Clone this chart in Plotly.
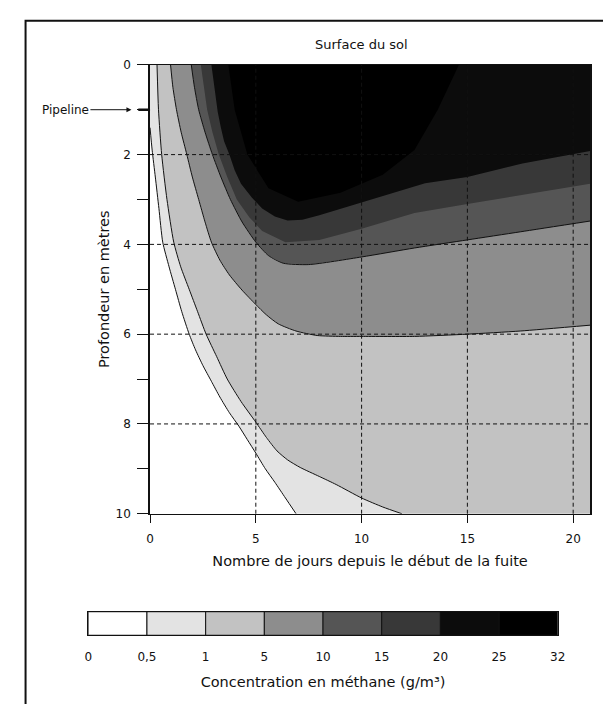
import plotly.graph_objects as go

# ---------------- data ----------------
X_MAX = 20.8          # last day shown on the horizontal axis
DEPTH_MAX = 10        # metres
PIPELINE_DEPTH = 1

X_TICKS = [0, 5, 10, 15, 20]
Y_TICKS = [0, 1, 2, 3, 4, 5, 6, 7, 8, 9, 10]
Y_TICK_TEXT = ["0", "", "2", "", "4", "", "6", "", "8", "", "10"]
GRID_X = [5, 10, 15, 20]
GRID_Y = [2, 4, 6, 8]

LEVEL_LABELS = ["0", "0,5", "1", "5", "10", "15", "20", "25", "32"]
BAND_COLORS = ["#ffffff", "#e3e3e3", "#c2c2c2", "#8d8d8d",
               "#555555", "#383838", "#0c0c0c", "#000000"]

# iso-concentration curves: (day, depth in m)
ISO_05_DAY = [0.0, 0.1, 0.25, 0.42, 0.6, 0.9, 1.2, 1.5, 1.85, 2.15, 2.5, 2.9,
              3.3, 3.75, 4.2, 4.6, 5.0, 5.45, 5.9, 6.4, 6.9]
ISO_05_DEPTH = [1.4, 1.9, 2.5, 3.2, 3.95, 4.5, 5.0, 5.5, 6.0, 6.35, 6.7, 7.05,
                7.4, 7.75, 8.05, 8.35, 8.65, 9.0, 9.3, 9.65, 10.0]

ISO_1_DAY = [0.33, 0.4, 0.55, 0.8, 1.12, 1.45, 1.85, 2.25, 2.65, 3.15, 3.65,
             4.3, 5.0, 5.5, 6.0, 6.5, 7.1, 8.0, 8.8, 10.0, 11.0, 11.9]
ISO_1_DEPTH = [0.0, 1.0, 2.0, 3.0, 3.95, 4.5, 5.0, 5.5, 6.0, 6.5, 7.0,
               7.5, 7.96, 8.3, 8.6, 8.8, 8.97, 9.17, 9.35, 9.65, 9.85, 10.0]

ISO_5_DAY = [0.97, 1.08, 1.25, 1.47, 1.74, 2.0, 2.3, 2.6, 2.9, 3.3, 3.75, 4.35,
             4.98, 5.5, 6.06, 6.9, 7.9, 9.0, 10.0, 12.5, 15.0, 17.5, 20.8]
ISO_5_DEPTH = [0.0, 0.5, 1.0, 1.5, 2.0, 2.5, 3.0, 3.5, 3.95, 4.35, 4.68, 5.02,
               5.33, 5.57, 5.77, 5.93, 6.03, 6.05, 6.05, 6.05, 6.0, 5.93, 5.8]

ISO_10_DAY = [1.95, 2.1, 2.3, 2.6, 2.95, 3.35, 3.8, 4.35, 5.0, 5.6, 6.3, 7.5,
              10.0, 12.5, 15.0, 17.5, 20.8]
ISO_10_DEPTH = [0.0, 0.5, 1.0, 1.5, 2.0, 2.5, 3.0, 3.5, 3.95, 4.25, 4.42, 4.45,
                4.28, 4.08, 3.9, 3.72, 3.48]

ISO_15_DAY = [2.4, 2.55, 2.7, 2.95, 3.25, 3.65, 4.1, 4.7, 5.3, 6.4, 8.0, 10.0,
              12.5, 15.0, 17.5, 20.8]
ISO_15_DEPTH = [0.0, 0.5, 1.0, 1.5, 2.0, 2.5, 3.0, 3.4, 3.7, 3.95, 3.9, 3.65,
                3.3, 3.1, 2.9, 2.65]

ISO_20_DAY = [2.9, 3.0, 3.1, 3.2, 3.35, 3.5, 3.75, 4.0, 4.3, 4.8, 5.3, 5.9, 6.5,
              7.2, 8.0, 9.9, 11.5, 13.0, 15.0, 17.6, 20.8]
ISO_20_DEPTH = [0.0, 0.35, 0.7, 1.05, 1.4, 1.7, 2.0, 2.35, 2.65, 2.95, 3.2, 3.38,
                3.47, 3.45, 3.35, 3.08, 2.85, 2.64, 2.5, 2.2, 1.92]

ISO_25_DAY = [3.7, 4.0, 4.6, 5.6, 7.0, 9.0, 11.0, 12.5, 13.6, 14.6]
ISO_25_DEPTH = [0.0, 1.0, 2.0, 2.75, 3.05, 2.85, 2.45, 1.9, 1.0, 0.0]

ISOLINES = [  # (band index, days, depths, drawn as a solid line)
    (1, ISO_05_DAY, ISO_05_DEPTH, True),
    (2, ISO_1_DAY, ISO_1_DEPTH, True),
    (3, ISO_5_DAY, ISO_5_DEPTH, True),
    (4, ISO_10_DAY, ISO_10_DEPTH, True),
    (5, ISO_15_DAY, ISO_15_DEPTH, False),
    (6, ISO_20_DAY, ISO_20_DEPTH, False),
    (7, ISO_25_DAY, ISO_25_DEPTH, False),
]

# ---------------- figure ----------------
W, H = 603, 704
FONT = "DejaVu Sans"

fig = go.Figure()


def region(days, depths):
    """Region of higher concentration: curve closed along the right/top edges."""
    xs, ys = list(days), list(depths)
    if ys[-1] == 0 and ys[0] == 0:
        return xs, ys
    if ys[0] != 0:
        xs.insert(0, xs[0])
        ys.insert(0, 0)
    if ys[-1] == DEPTH_MAX and xs[-1] < X_MAX:
        xs.append(X_MAX)
        ys.append(DEPTH_MAX)
    xs.append(X_MAX)
    ys.append(0)
    return xs, ys


for band, days, depths, _ in ISOLINES:
    px, py = region(days, depths)
    fig.add_trace(go.Scatter(
        x=px, y=py, fill="toself", fillcolor=BAND_COLORS[band],
        mode="lines", line=dict(width=0, color=BAND_COLORS[band]),
        hoverinfo="skip", showlegend=False, xaxis="x", yaxis="y"))

for band, days, depths, drawn in ISOLINES:
    if drawn:
        fig.add_trace(go.Scatter(
            x=days, y=depths, mode="lines",
            line=dict(color="#111111", width=1, shape="spline", smoothing=0.6),
            hoverinfo="skip", showlegend=False, xaxis="x", yaxis="y"))

# colour scale bar
n_bands = len(BAND_COLORS)
fig.add_trace(go.Bar(
    x=[i + 0.5 for i in range(n_bands)], y=[1] * n_bands, width=1,
    marker=dict(color=BAND_COLORS, line=dict(color="#111111", width=1)),
    hoverinfo="skip", showlegend=False, xaxis="x2", yaxis="y2"))

axis_font = dict(family=FONT, size=12, color="#111111")
title_font = dict(family=FONT, size=14.5, color="#111111")

fig.update_layout(
    width=W, height=H,
    margin=dict(l=0, r=0, t=0, b=0),
    paper_bgcolor="white", plot_bgcolor="white",
    font=dict(family=FONT, color="#111111"),
    xaxis=dict(
        domain=[149 / W, 598 / W], anchor="y", range=[0, X_MAX],
        tickvals=X_TICKS, ticks="outside", ticklen=8, tickcolor="#111111",
        ticklabelstandoff=6,
        showline=True, mirror=True, linecolor="#111111", linewidth=1,
        showgrid=False, zeroline=False, tickfont=axis_font,
        title=dict(text="Nombre de jours depuis le début de la fuite",
                   font=title_font, standoff=10)),
    yaxis=dict(
        domain=[1 - 517 / H, 1 - 59 / H], anchor="x", range=[DEPTH_MAX, 0],
        tickvals=Y_TICKS, ticktext=Y_TICK_TEXT, ticks="outside", ticklen=11,
        ticklabelstandoff=4,
        tickcolor="#111111", showline=True, mirror=True, linecolor="#111111",
        linewidth=1.5, showgrid=False, zeroline=False, tickfont=axis_font,
        title=dict(text="Profondeur en mètres", font=title_font, standoff=3)),
    xaxis2=dict(
        domain=[86 / W, 565 / W], anchor="y2", range=[0, n_bands],
        tickvals=list(range(n_bands + 1)), ticktext=LEVEL_LABELS,
        ticks="outside", ticklen=10, tickcolor="rgba(0,0,0,0)",
        showline=True, mirror=True, linecolor="#111111", linewidth=1,
        showgrid=False, zeroline=False, tickfont=axis_font,
        title=dict(text="Concentration en méthane (g/m³)", font=title_font,
                   standoff=14)),
    yaxis2=dict(
        domain=[1 - 641 / H, 1 - 617 / H], anchor="x2", range=[0, 1],
        showticklabels=False, ticks="", showgrid=False, zeroline=False,
        showline=True, mirror=True, linecolor="#111111", linewidth=1),
)

# dashed reference lines
for v in GRID_X:
    fig.add_shape(type="line", xref="x", yref="y domain", x0=v, x1=v, y0=0, y1=1,
                  line=dict(color="#111111", width=1, dash="4px,3px"))
for v in GRID_Y:
    fig.add_shape(type="line", xref="x domain", yref="y", x0=0, x1=1, y0=v, y1=v,
                  line=dict(color="#111111", width=1, dash="4px,3px"))

# heavier tick marking the pipeline depth
fig.add_shape(type="line", xref="paper", yref="y",
              x0=137 / W, x1=149 / W, y0=PIPELINE_DEPTH, y1=PIPELINE_DEPTH,
              line=dict(color="#111111", width=2.5))

# outer frame of the figure
fig.add_shape(type="rect", xref="paper", yref="paper",
              x0=22 / W, x1=1.05, y0=-0.05, y1=1 - 14 / H,
              line=dict(color="#111111", width=2), layer="above")

fig.add_annotation(text="Surface du sol", xref="paper", yref="paper",
                   x=365 / W, y=1 - 38 / H, xanchor="center", yanchor="middle",
                   showarrow=False,
                   font=dict(family=FONT, size=13, color="#111111"))
fig.add_annotation(text="Pipeline", xref="paper", yref="y",
                   x=130 / W, y=PIPELINE_DEPTH, ax=-66, ay=0,
                   showarrow=True, arrowhead=2, arrowsize=1, arrowwidth=1,
                   arrowcolor="#111111",
                   font=dict(family=FONT, size=12, color="#111111"))

fig.write_html(
    "out.html",
    config={"displayModeBar": False},
    post_script="document.body.style.margin='0';document.body.style.overflow='hidden';")
